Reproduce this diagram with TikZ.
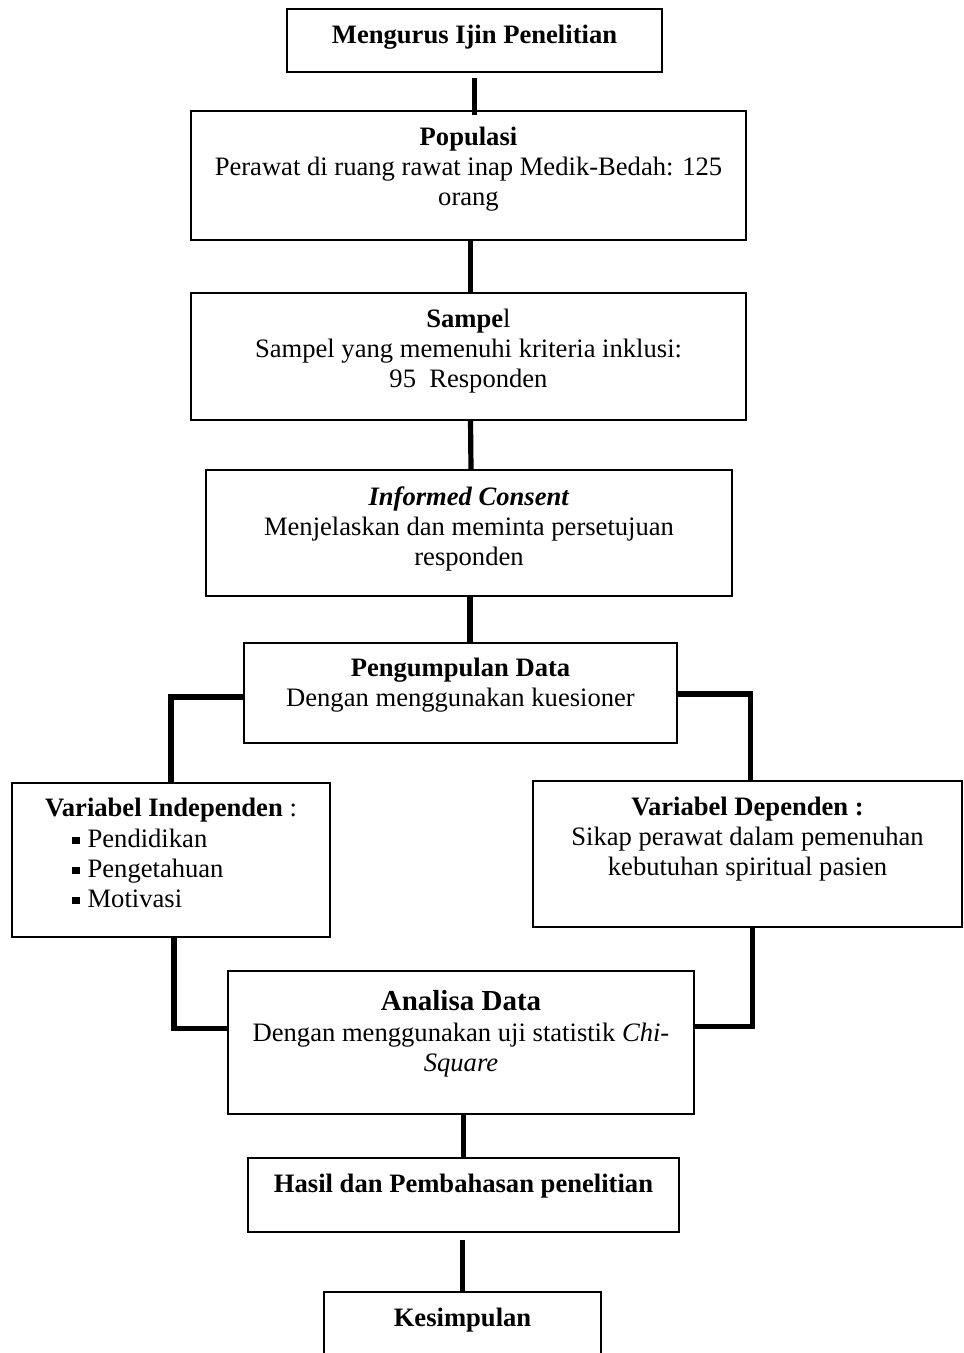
\documentclass[tikz,border=0pt]{standalone}
\usepackage{fontspec}
\setmainfont{Liberation Serif}
\newcommand\fsz{\fontsize{13.3}{15}\selectfont}
\newcommand\bigfsz{\fontsize{14.5}{17}\selectfont}
\newcommand\sqbul{\rule[1.6pt]{3.6pt}{3.6pt}\hspace{4pt}}
\begin{document}
\begin{tikzpicture}[x=0.5pt,y=-0.5pt,
  box/.style={draw, line width=0.8pt, inner sep=0pt},
  conn/.style={line width=2.6pt},
  txt/.style={anchor=north, align=center, inner sep=0pt, font=\fsz},
  lbl/.style={anchor=base, inner sep=0pt, font=\fsz}]
\clip (0,0) rectangle (963,1353);
\fill[white] (0,0) rectangle (963,1353);
% boxes
\node[box, minimum width=187.5pt, minimum height=31.5pt] (b1) at (474.5,40.5) {};
\node[box, minimum width=277.5pt, minimum height=64.5pt] (b2) at (468.5,175.5) {};
\node[box, minimum width=277.5pt, minimum height=63.5pt] (b3) at (468.5,356.5) {};
\node[box, minimum width=263pt, minimum height=63pt] (b4) at (469,533) {};
\node[box, minimum width=216.5pt, minimum height=50pt] (b5) at (460.5,693) {};
\node[box, minimum width=159pt, minimum height=77pt] (b6) at (171,860) {};
\node[box, minimum width=214.5pt, minimum height=73pt] (b7) at (747.5,854) {};
\node[box, minimum width=233pt, minimum height=71.5pt] (b8) at (461,1042.5) {};
\node[box, minimum width=215.5pt, minimum height=37pt] (b9) at (463.5,1195) {};
\node[box, minimum width=138.5pt, minimum height=44pt] (b10) at (462.5,1336) {};
% texts
\node[lbl] (t1) at (474.5,44) {\textbf{Mengurus Ijin Penelitian}};
\node[txt] (t2) at (468.5,124) {\strut\textbf{Populasi}\\Perawat di ruang rawat inap Medik-Bedah: 125\\orang};
\node[txt] (t3) at (468.5,306) {\strut\textbf{Sampe}l\\Sampel yang memenuhi kriteria inklusi:\\95\ \ Responden};
\node[txt] (t4) at (469,484) {\strut\textbf{\textit{Informed Consent}}\\Menjelaskan dan meminta persetujuan\\responden};
\node[txt] (t5) at (460.5,655) {\strut\textbf{Pengumpulan Data}\\Dengan menggunakan kuesioner};
\node[lbl] (t6) at (171,816) {\textbf{Variabel Independen} :};
\node[txt, anchor=north west, align=left] (t6b) at (72,826) {\strut\sqbul Pendidikan\\\sqbul Pengetahuan\\\sqbul Motivasi};
\node[txt] (t7) at (747.5,794) {\strut\textbf{Variabel Dependen :}\\Sikap perawat dalam pemenuhan\\kebutuhan spiritual pasien};
\node[lbl, font=\bigfsz] (t8) at (461,1010) {\textbf{Analisa Data}};
\node[txt] (t8b) at (461,1020) {\strut Dengan menggunakan uji statistik \textit{Chi-}\\\textit{Square}};
\node[lbl] (t9) at (463.5,1192) {\textbf{Hasil dan Pembahasan penelitian}};
\node[lbl] (t10) at (462.5,1326) {\textbf{Kesimpulan}};
% connectors
\draw[conn] ([yshift=-2.5pt]b1.south) -- ([yshift=-2.5pt]b1.south |- b2.north);
\draw[conn] ([xshift=1pt]b2.south) -- ([xshift=1pt]b3.north);
\draw[conn] ([xshift=1pt]b3.south) -- ([xshift=1pt]b4.north);
\draw[conn] ([xshift=0.5pt]b4.south) -- ([xshift=0.5pt]b4.south |- b5.north);
\draw[conn] ([yshift=-2pt]b5.west) -| (b6.north);
\draw[conn] ([yshift=-0.5pt]b5.west -| b5.east) -| ([xshift=1.5pt]b7.north);
\draw[conn] ([xshift=1.5pt]b6.south) |- ([yshift=7pt]b8.west);
\draw[conn] ([xshift=2.5pt]b7.south) |- ([yshift=8pt]b8.east);
\draw[conn] (b8.south -| b9.north) -- (b9.north);
\draw[conn] ([yshift=-3.5pt]b9.south -| b10.north) -- (b10.north);
\end{tikzpicture}
\end{document}
